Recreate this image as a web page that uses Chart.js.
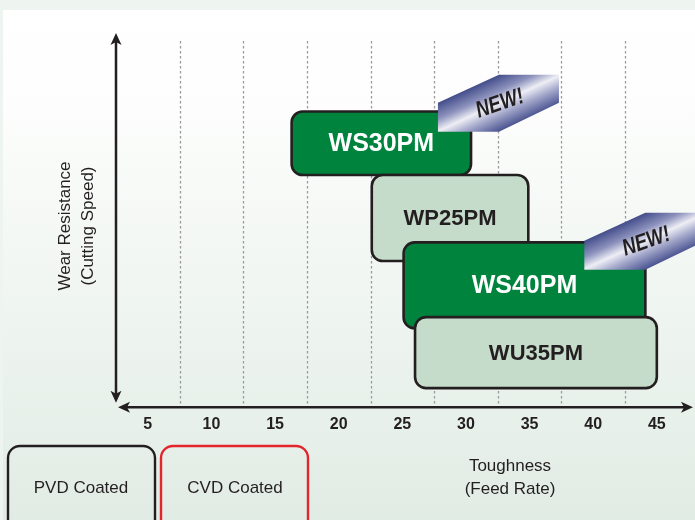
<!DOCTYPE html>
<html>
<head>
<meta charset="utf-8">
<script src="https://cdn.jsdelivr.net/npm/chart.js@4/dist/chart.umd.min.js"></script>
<style>
  html, body { margin: 0; padding: 0; background: #eef4f0; }
  canvas { display: block; }
</style>
</head>
<body>
<canvas id="gradeCanvas" width="695" height="520"></canvas>
<script>
// grade map data (feed rate on x, cutting speed on y)
const grades = ["WS30PM", "WP25PM", "WS40PM", "WU35PM"];
const feedFrom = [16.3, 22.6, 25.1, 26.0];
const feedTo = [30.4, 34.9, 44.1, 45.0];
const speedLow = [62, 39, 21, 5];
const speedHigh = [79, 62, 44, 24];
const isNew = [true, false, true, false];

// where the "NEW!" tags sit, in chart units
const newTagX = [27.8, null, 39.3, null];
const newTagY = [88.8, null, 51.9, null];

const xTicks = [5, 10, 15, 20, 25, 30, 35, 40, 45];
const gridAt = [7.5, 12.5, 17.5, 22.5, 27.5, 32.5, 37.5, 42.5];

const FONT = "'Liberation Sans', Arial, Helvetica, sans-serif";
const INK = "#231f20";

function arrowHead(ctx, x, y, dir) {
  // dir: 'up' | 'down' | 'left' | 'right'
  ctx.save();
  ctx.translate(x, y);
  const rot = { up: -Math.PI / 2, down: Math.PI / 2, left: Math.PI, right: 0 }[dir];
  ctx.rotate(rot);
  ctx.beginPath();
  ctx.moveTo(0, 0);
  ctx.lineTo(-12, -5.5);
  ctx.lineTo(-9, 0);
  ctx.lineTo(-12, 5.5);
  ctx.closePath();
  ctx.fillStyle = INK;
  ctx.fill();
  ctx.restore();
}

function drawNewTag(ctx, left, top) {
  const w = 121, h = 57;
  ctx.save();
  ctx.translate(left, top);
  ctx.beginPath();
  ctx.moveTo(0, 28);
  ctx.lineTo(61, 0);
  ctx.lineTo(w, 0);
  ctx.lineTo(w, 28);
  ctx.lineTo(61, h);
  ctx.lineTo(0, h);
  ctx.closePath();
  const nx = 0.417, ny = 0.909;
  const g = ctx.createLinearGradient(60.5 - 27 * nx, 28.5 - 27 * ny, 60.5 + 27 * nx, 28.5 + 27 * ny);
  g.addColorStop(0, "#3d4786");
  g.addColorStop(0.3, "#8d93bd");
  g.addColorStop(0.5, "#eeeef5");
  g.addColorStop(0.7, "#a4a8cb");
  g.addColorStop(1, "#434d8c");
  ctx.fillStyle = g;
  ctx.fill();
  ctx.translate(62, 29);
  ctx.rotate(-0.33);
  ctx.scale(0.8, 1);
  ctx.fillStyle = INK;
  ctx.font = "italic bold 23px " + FONT;
  ctx.textAlign = "center";
  ctx.textBaseline = "middle";
  ctx.fillText("NEW!", 0, 0);
  ctx.restore();
}

const gradePlugin = {
  id: "gradeMap",
  beforeDraw(chart) {
    const ctx = chart.ctx;
    const { x, y } = chart.scales;
    const area = chart.chartArea;
    ctx.save();
    ctx.fillStyle = "#eef4f0";
    ctx.fillRect(0, 0, chart.width, chart.height);
    const bg = ctx.createLinearGradient(0, 10, 0, chart.height);
    bg.addColorStop(0, "#ffffff");
    bg.addColorStop(0.2, "#fcfdfc");
    bg.addColorStop(1, "#e1ece4");
    ctx.fillStyle = bg;
    ctx.fillRect(3, 10, chart.width - 3, chart.height - 10);

    // dotted guides between the ticks
    ctx.strokeStyle = "#9a9a9a";
    ctx.lineWidth = 1.3;
    ctx.setLineDash([2.5, 2.5]);
    gridAt.forEach(v => {
      const px = Math.round(x.getPixelForValue(v)) + 0.5;
      ctx.beginPath();
      ctx.moveTo(px, area.top + 8);
      ctx.lineTo(px, area.bottom);
      ctx.stroke();
    });
    ctx.restore();
  },
  afterDatasetsDraw(chart) {
    const ctx = chart.ctx;
    const { x, y } = chart.scales;
    const area = chart.chartArea;
    ctx.save();

    // axes with arrows
    ctx.strokeStyle = INK;
    ctx.lineWidth = 2.5;
    ctx.beginPath();
    ctx.moveTo(area.left, area.top + 6);
    ctx.lineTo(area.left, area.bottom - 10);
    ctx.stroke();
    arrowHead(ctx, area.left, area.top, "up");
    arrowHead(ctx, area.left, area.bottom - 4, "down");
    ctx.beginPath();
    ctx.moveTo(area.left + 8, area.bottom + 0.5);
    ctx.lineTo(area.right - 8, area.bottom + 0.5);
    ctx.stroke();
    arrowHead(ctx, area.left + 2, area.bottom + 0.5, "left");
    arrowHead(ctx, area.right - 2, area.bottom + 0.5, "right");

    // grade boxes
    grades.forEach((name, i) => {
      const l = x.getPixelForValue(feedFrom[i]);
      const r = x.getPixelForValue(feedTo[i]);
      const t = y.getPixelForValue(speedHigh[i]);
      const b = y.getPixelForValue(speedLow[i]);
      ctx.beginPath();
      ctx.roundRect(l, t, r - l, b - t, 11);
      ctx.fillStyle = isNew[i] ? "#00843d" : "#c6dccb";
      ctx.fill();
      ctx.lineWidth = 2.6;
      ctx.strokeStyle = INK;
      ctx.stroke();
      ctx.fillStyle = isNew[i] ? "#ffffff" : INK;
      ctx.font = "bold " + (isNew[i] ? 25 : 22) + "px " + FONT;
      ctx.textAlign = "center";
      ctx.textBaseline = "middle";
      ctx.fillText(name, (l + r) / 2, (t + b) / 2 + 1);
    });

    grades.forEach((name, i) => {
      if (newTagX[i] == null) return;
      drawNewTag(ctx, x.getPixelForValue(newTagX[i]), y.getPixelForValue(newTagY[i]));
    });
    ctx.restore();
  },
  afterDraw(chart) {
    const ctx = chart.ctx;
    ctx.save();
    ctx.fillStyle = INK;
    ctx.font = "17px " + FONT;
    ctx.textAlign = "center";
    ctx.textBaseline = "middle";

    // axis titles
    ctx.fillText("Toughness", 510, 466);
    ctx.fillText("(Feed Rate)", 510, 489);
    ctx.save();
    ctx.translate(65, 226);
    ctx.rotate(-Math.PI / 2);
    ctx.fillText("Wear Resistance", 0, 0);
    ctx.fillText("(Cutting Speed)", 0, 23);
    ctx.restore();

    // coating legend boxes
    ctx.lineWidth = 2.4;
    ctx.strokeStyle = INK;
    ctx.beginPath();
    ctx.roundRect(8, 446, 147, 90, 12);
    ctx.stroke();
    ctx.strokeStyle = "#e3262c";
    ctx.beginPath();
    ctx.roundRect(161, 446, 147, 90, 12);
    ctx.stroke();
    ctx.fillText("PVD Coated", 81, 488);
    ctx.fillText("CVD Coated", 235, 488);
    ctx.restore();
  }
};

const gradeChart = new Chart(document.getElementById("gradeCanvas"), {
  type: "scatter",
  data: { datasets: [] },
  options: {
    responsive: false,
    animation: false,
    layout: {
      padding: { left: 116, right: 0, top: 33, bottom: 78 }
    },
    plugins: {
      legend: { display: false },
      tooltip: { enabled: false }
    },
    scales: {
      x: {
        type: "linear",
        min: 2.5,
        max: 48,
        afterBuildTicks: scale => {
          scale.ticks = xTicks.map(v => ({ value: v }));
        },
        grid: { display: false, drawTicks: false },
        border: { display: false },
        ticks: {
          color: INK,
          padding: 8,
          font: { family: FONT, size: 16, weight: "bold" }
        }
      },
      y: {
        type: "linear",
        min: 0,
        max: 100,
        display: false
      }
    }
  },
  plugins: [gradePlugin]
});
</script>
</body>
</html>
